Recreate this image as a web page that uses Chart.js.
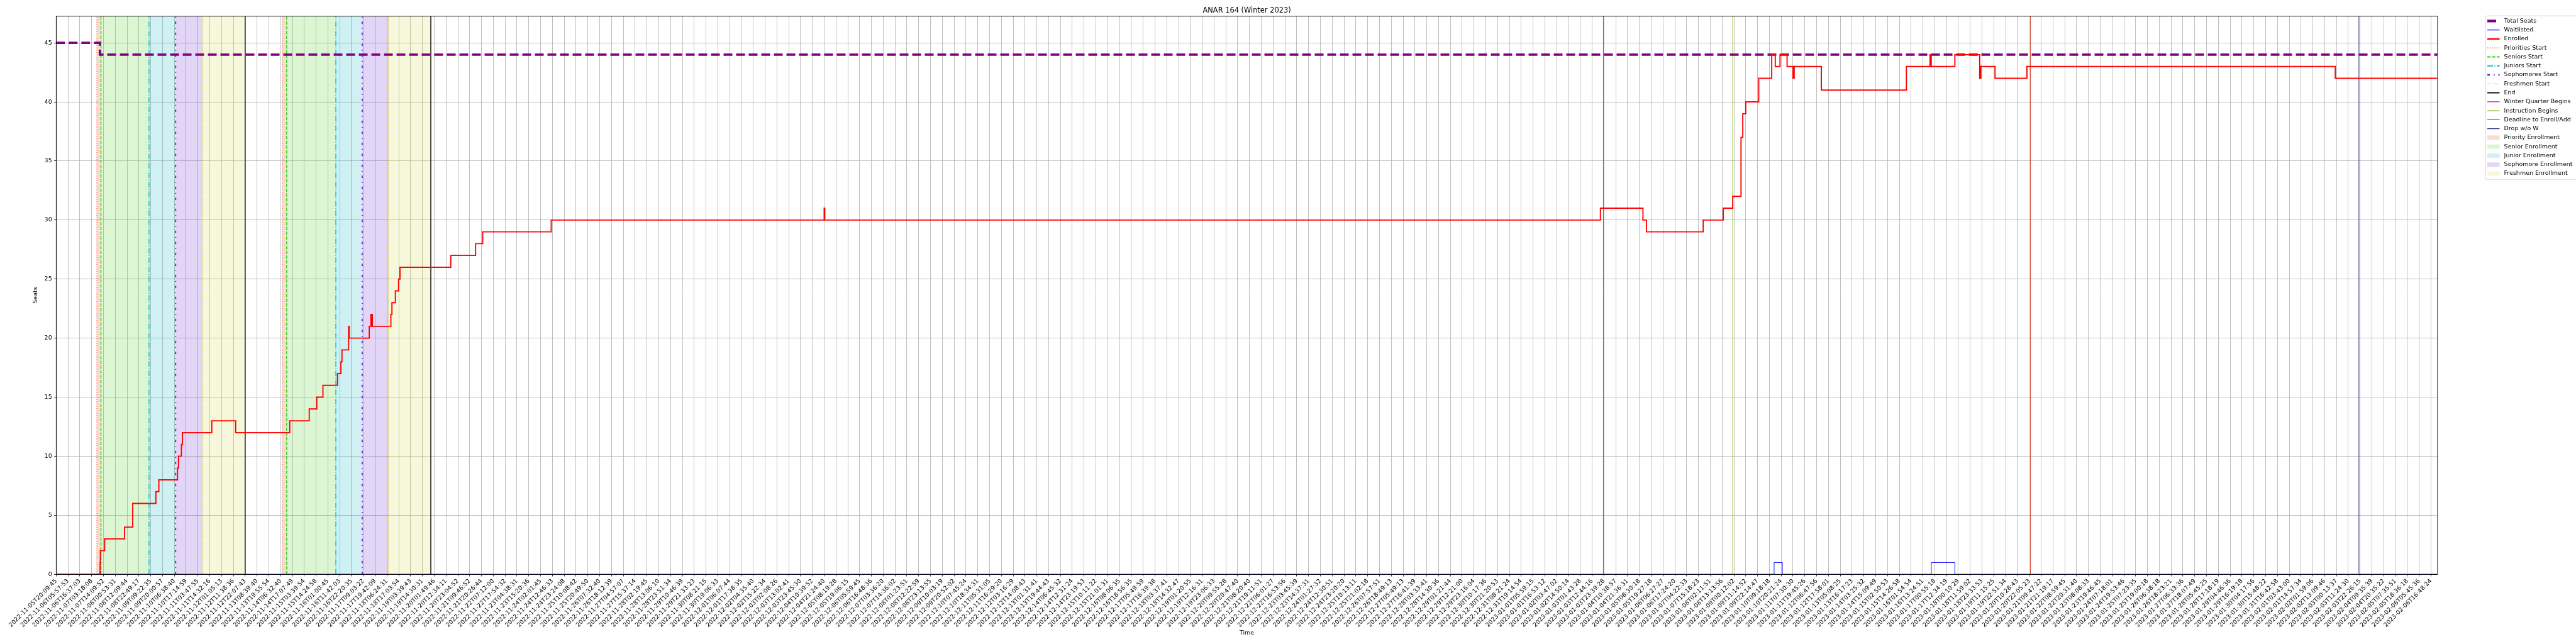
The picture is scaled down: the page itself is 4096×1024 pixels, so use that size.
<!DOCTYPE html>
<html>
<head>
<meta charset="utf-8">
<script src="https://cdn.jsdelivr.net/npm/chart.js@4.4.0/dist/chart.umd.min.js"></script>
<style>
  html, body { margin: 0; padding: 0; background: #fff; }
</style>
</head>
<body>
<canvas id="seatChart" width="4096" height="1024"></canvas>
<script>
// x positions are in "tick units": 0 = first tick label, 1 = second, ...
const tickLabels = [
  '2022-11-05T20:09:45','2022-11-06T05:57:53','2022-11-06T16:37:03','2022-11-07T03:18:08','2022-11-07T14:09:52',
  '2022-11-08T00:53:31','2022-11-08T12:09:44','2022-11-08T22:49:17','2022-11-09T09:22:35','2022-11-09T20:00:57',
  '2022-11-10T06:38:40','2022-11-10T17:14:59','2022-11-11T03:47:55','2022-11-11T14:32:16','2022-11-12T01:05:13',
  '2022-11-12T11:38:36','2022-11-12T22:07:43','2022-11-13T08:39:40','2022-11-13T19:55:54','2022-11-14T06:32:40',
  '2022-11-14T17:07:49','2022-11-15T03:39:54','2022-11-15T14:24:58','2022-11-16T01:00:45','2022-11-16T11:42:03',
  '2022-11-16T22:20:35','2022-11-17T09:03:22','2022-11-17T19:42:09','2022-11-18T06:24:31','2022-11-18T17:03:54',
  '2022-11-19T03:39:43','2022-11-19T14:30:31','2022-11-20T01:49:46','2022-11-20T12:34:11','2022-11-20T23:04:52',
  '2022-11-21T09:46:52','2022-11-21T20:26:44','2022-11-22T07:12:00','2022-11-22T17:54:32','2022-11-23T04:38:31',
  '2022-11-23T15:20:36','2022-11-24T02:01:45','2022-11-24T12:46:33','2022-11-24T23:24:08','2022-11-25T10:08:42',
  '2022-11-25T20:49:50','2022-11-26T07:32:40','2022-11-26T18:12:39','2022-11-27T04:57:07','2022-11-27T15:37:14',
  '2022-11-28T02:19:45','2022-11-28T13:06:10','2022-11-28T23:51:34','2022-11-29T10:46:39','2022-11-29T21:33:23',
  '2022-11-30T08:21:15','2022-11-30T19:06:33','2022-12-01T06:07:44','2022-12-01T17:38:35','2022-12-02T04:35:40',
  '2022-12-02T15:22:34','2022-12-03T02:08:26','2022-12-03T13:02:41','2022-12-03T23:45:30','2022-12-04T10:39:52',
  '2022-12-04T21:24:40','2022-12-05T08:19:28','2022-12-05T19:06:15',
  '2022-12-06T05:59:45','2022-12-06T16:48:36','2022-12-07T03:36:20','2022-12-07T14:36:02','2022-12-08T01:23:51',
  '2022-12-08T12:22:59','2022-12-08T23:13:55','2022-12-09T10:03:19','2022-12-09T20:52:02','2022-12-10T07:45:24',
  '2022-12-10T18:34:31','2022-12-11T05:31:05','2022-12-11T16:29:20','2022-12-12T03:16:29','2022-12-12T14:08:43',
  '2022-12-13T01:31:41','2022-12-13T19:44:43','2022-12-14T06:45:32','2022-12-14T12:31:24','2022-12-14T23:19:53',
  '2022-12-15T10:11:22','2022-12-15T21:01:31','2022-12-16T08:06:35','2022-12-16T18:56:35','2022-12-17T05:49:59',
  '2022-12-17T16:39:38','2022-12-18T03:37:41','2022-12-18T14:32:47','2022-12-19T01:20:55','2022-12-19T12:16:31',
  '2022-12-19T23:06:33','2022-12-20T09:55:28','2022-12-20T20:47:40','2022-12-21T08:20:40','2022-12-21T19:11:51',
  '2022-12-22T06:01:27','2022-12-22T16:53:56','2022-12-23T03:45:39','2022-12-23T14:37:31','2022-12-24T01:27:32',
  '2022-12-24T12:30:51','2022-12-24T23:20:20','2022-12-25T10:13:11','2022-12-25T21:02:18','2022-12-26T07:57:51',
  '2022-12-26T18:49:13','2022-12-27T05:49:13','2022-12-27T16:41:39','2022-12-28T03:33:41','2022-12-28T14:30:36',
  '2022-12-29T01:21:44','2022-12-29T12:21:00','2022-12-29T23:16:04','2022-12-30T10:17:36','2022-12-30T21:20:53',
  '2022-12-31T08:21:24','2022-12-31T19:14:54','2023-01-01T05:59:15','2023-01-01T16:53:12','2023-01-02T03:47:02',
  '2023-01-02T14:50:14','2023-01-03T01:43:28','2023-01-03T12:44:16','2023-01-03T23:39:28','2023-01-04T10:38:57',
  '2023-01-04T21:36:31','2023-01-05T08:30:18','2023-01-05T19:27:18','2023-01-06T06:27:27',
  '2023-01-06T17:24:20','2023-01-07T04:22:33','2023-01-07T15:18:23','2023-01-08T02:11:51','2023-01-08T13:13:56',
  '2023-01-09T00:12:02','2023-01-09T11:14:52','2023-01-09T22:14:47','2023-01-10T09:18:18','2023-01-10T20:21:24',
  '2023-01-11T07:30:30','2023-01-11T19:45:26','2023-01-12T06:47:56','2023-01-12T17:58:01','2023-01-13T05:08:25',
  '2023-01-13T16:17:23','2023-01-14T03:25:32','2023-01-14T15:09:49','2023-01-15T02:50:53','2023-01-15T14:26:58',
  '2023-01-16T01:54:54','2023-01-16T13:24:51','2023-01-17T00:55:18','2023-01-17T12:34:19','2023-01-18T00:10:29',
  '2023-01-18T11:59:02','2023-01-18T23:33:53','2023-01-19T11:15:25','2023-01-19T22:51:34','2023-01-20T10:28:43',
  '2023-01-20T22:05:23','2023-01-21T09:47:22','2023-01-21T21:19:17','2023-01-22T08:59:45',
  '2023-01-22T20:31:40','2023-01-23T08:08:33','2023-01-23T19:46:45','2023-01-24T07:18:01','2023-01-24T19:53:46',
  '2023-01-25T07:23:35','2023-01-25T19:00:18','2023-01-26T06:38:18','2023-01-26T18:23:21','2023-01-27T06:33:36',
  '2023-01-27T18:07:49','2023-01-28T05:45:25','2023-01-28T17:18:19','2023-01-29T04:46:36','2023-01-29T16:19:18',
  '2023-01-30T04:17:56','2023-01-30T15:48:22','2023-01-31T16:42:58','2023-02-01T03:43:00','2023-02-01T14:57:34',
  '2023-02-02T01:59:06','2023-02-02T13:09:46','2023-02-03T00:13:37','2023-02-03T11:24:30','2023-02-03T22:26:15',
  '2023-02-04T09:35:39','2023-02-04T20:35:22','2023-02-05T07:35:51','2023-02-05T18:36:18','2023-02-06T05:45:36',
  '2023-02-06T16:48:24'
];

const X_MAX = 201.55;   // last sample sits just past the last tick
const Y_MAX = 47.25;

// step series: value holds from x[i] until x[i+1]
const seatsX = [0, 3.7, X_MAX];
const seatsY = [45, 44, 44];

const waitlistX = [0, 145.4, 146.1, 158.7, 160.7, X_MAX];
const waitlistY = [0, 1, 0, 1, 0, 0];

const enrolledX = [0, 3.72, 3.74, 4.10, 5.79, 6.48, 8.44, 8.69, 10.27, 10.35, 10.60, 10.69, 13.17, 15.19,
  19.77, 21.42, 22.06, 22.58, 23.81, 24.10, 24.19, 24.75, 24.80, 26.50, 26.64, 26.68, 26.72, 26.76,
  28.33, 28.42, 28.71, 28.98, 29.10, 33.40, 35.5, 36.1, 41.9, 65.0, 65.05,
  130.7, 134.3, 134.6, 139.4, 141.1, 141.9, 142.6, 142.75, 143.0, 144.1, 145.2, 145.5, 145.9, 146.5,
  147.0, 147.1, 149.4, 156.6, 158.6, 158.7, 160.7, 162.8, 162.9, 164.1, 166.8, 192.9, X_MAX];
const enrolledY = [0, 1, 2, 3, 4, 6, 7, 8, 9, 10, 11, 12, 13, 12,
  13, 14, 15, 16, 17, 18, 19, 21, 20, 21, 22, 21, 22, 21,
  22, 23, 24, 25, 26, 27, 28, 29, 30, 31, 30,
  31, 30, 29, 30, 31, 32, 37, 39, 40, 42, 44, 43, 44, 43,
  42, 43, 41, 43, 44, 43, 44, 42, 43, 42, 43, 42, 42];

// enrollment phases, one entry per pass
const priorityStarts = [3.44, 19.15];
const seniorStarts = [3.79, 19.51];
const juniorStarts = [7.86, 23.67];
const sophomoreStarts = [10.11, 25.90];
const freshmenStarts = [12.41, 28.14];
const phaseEnds = [16.0, 31.71];

const winterBegins = [130.95];
const instructionBegins = [141.9];
const enrollDeadline = [167.1];
const dropNoW = [194.9];

const toPoints = (xs, ys) => xs.map((x, i) => ({ x: x, y: ys[i] }));
const vline = (x) => [{ x: x, y: 0 }, { x: x, y: Y_MAX }];
const span = (a, b) => [{ x: a, y: Y_MAX }, { x: b, y: Y_MAX }];

const datasets = [];

datasets.push({ label: 'Total Seats', data: toPoints(seatsX, seatsY), borderColor: '#800080',
  borderWidth: 3.8, borderDash: [14, 6], stepped: true, order: 3 });
datasets.push({ label: 'Waitlisted', data: toPoints(waitlistX, waitlistY), borderColor: '#0000ff',
  borderWidth: 0.95, stepped: true, order: 2 });
datasets.push({ label: 'Enrolled', data: toPoints(enrolledX, enrolledY), borderColor: '#ff0000',
  borderWidth: 1.9, stepped: true, order: 1 });

const markers = [
  ['Priorities Start', priorityStarts, '#f4511e', [1.4, 2.3], 1.0],
  ['Seniors Start', seniorStarts, '#33cc11', [5.3, 2.3], 1.4],
  ['Juniors Start', juniorStarts, '#00c4cc', [9, 2.3, 1.4, 2.3], 1.4],
  ['Sophomores Start', sophomoreStarts, '#6a1fd8', [4, 6, 1.5, 6], 1.9],
  ['Freshmen Start', freshmenStarts, '#e2e22a', [6, 2, 1.4, 2], 1.0],
  ['End', phaseEnds, '#000000', [], 1.4],
  ['Winter Quarter Begins', winterBegins, '#e2129a', [], 0.95],
  ['Instruction Begins', instructionBegins, '#8cb814', [], 0.95],
  ['Deadline to Enroll/Add', enrollDeadline, '#cc4422', [], 0.95],
  ['Drop w/o W', dropNoW, '#2e2a8c', [], 0.95]
];
markers.forEach(([label, xs, color, dash, width]) => {
  xs.forEach(x => datasets.push({ label: label, data: vline(x), borderColor: color,
    borderDash: dash, borderWidth: width, order: 10 }));
});

const phases = [
  ['Priority Enrollment', priorityStarts, seniorStarts, 'rgba(215, 85, 25, 0.2)'],
  ['Senior Enrollment', seniorStarts, juniorStarts, 'rgba(80, 205, 35, 0.2)'],
  ['Junior Enrollment', juniorStarts, sophomoreStarts, 'rgba(15, 185, 195, 0.2)'],
  ['Sophomore Enrollment', sophomoreStarts, freshmenStarts, 'rgba(110, 45, 205, 0.2)'],
  ['Freshmen Enrollment', freshmenStarts, phaseEnds, 'rgba(215, 222, 75, 0.2)']
];
phases.forEach(([label, from, to, color]) => {
  from.forEach((a, i) => datasets.push({ label: label, data: span(a, to[i]), borderWidth: 0,
    backgroundColor: color, fill: 'origin', order: 20, isPatch: true }));
});

// legend drawn to the right of the axes, like matplotlib's outside legend
const sideLegend = {
  id: 'sideLegend',
  afterDraw(chart) {
    const ctx = chart.ctx;
    const seen = new Set();
    const items = [];
    chart.data.datasets.forEach(ds => {
      if (!seen.has(ds.label)) { seen.add(ds.label); items.push(ds); }
    });
    const left = 3952, top = 25.2, bottom = 285.8, right = 4110, r = 3;
    ctx.save();
    ctx.beginPath();
    ctx.moveTo(left + r, top);
    ctx.lineTo(right, top);
    ctx.lineTo(right, bottom);
    ctx.lineTo(left + r, bottom);
    ctx.arcTo(left, bottom, left, bottom - r, r);
    ctx.lineTo(left, top + r);
    ctx.arcTo(left, top, left + r, top, r);
    ctx.closePath();
    ctx.fillStyle = 'rgba(255,255,255,0.8)';
    ctx.fill();
    ctx.strokeStyle = '#cccccc';
    ctx.lineWidth = 0.8;
    ctx.stroke();

    ctx.font = '9.5px "DejaVu Sans"';
    ctx.textBaseline = 'middle';
    ctx.textAlign = 'left';
    items.forEach((ds, i) => {
      const cy = 33.4 + i * 14.27;
      if (ds.isPatch) {
        ctx.fillStyle = ds.backgroundColor;
        ctx.fillRect(3955, cy - 3.4, 19.5, 6.8);
      } else {
        ctx.beginPath();
        ctx.setLineDash(ds.borderDash || []);
        ctx.lineWidth = ds.label === 'Total Seats' ? 4.2 : ds.borderWidth * 1.3;
        ctx.strokeStyle = ds.borderColor;
        ctx.moveTo(3955, cy);
        ctx.lineTo(3974.5, cy);
        ctx.stroke();
        ctx.setLineDash([]);
      }
      ctx.fillStyle = '#000';
      ctx.fillText(ds.label, 3981.6, cy);
    });
    ctx.restore();
  }
};

// title centred over the axes, plus the top/right spines
const frameAndTitle = {
  id: 'frameAndTitle',
  afterDatasetsDraw(chart) {
    const { ctx, chartArea: a } = chart;
    ctx.save();
    ctx.strokeStyle = '#000';
    ctx.lineWidth = 0.8;
    ctx.strokeRect(a.left, a.top, a.right - a.left, a.bottom - a.top);
    ctx.fillStyle = '#000';
    ctx.font = '11.4px "DejaVu Sans"';
    ctx.textAlign = 'center';
    ctx.textBaseline = 'alphabetic';
    ctx.fillText('ANAR 164 (Winter 2023)', (a.left + a.right) / 2, a.top - 5.7);
    ctx.restore();
  }
};

const tickFont = { family: 'DejaVu Sans', size: 9.5 };

new Chart(document.getElementById('seatChart'), {
  type: 'line',
  data: { datasets: datasets },
  options: {
    responsive: false,
    animation: false,
    devicePixelRatio: 1,
    layout: { padding: { left: 0, top: 25.9, right: 220.2, bottom: 0 } },
    elements: { point: { radius: 0 }, line: { tension: 0 } },
    plugins: { legend: { display: false }, tooltip: { enabled: false }, title: { display: false } },
    scales: {
      x: {
        type: 'linear',
        min: 0,
        max: X_MAX,
        afterFit: (s) => { s.height = 110.8; },
        ticks: {
          stepSize: 1,
          autoSkip: false,
          includeBounds: false,
          minRotation: 45,
          maxRotation: 45,
          padding: 2,
          color: '#000',
          font: tickFont,
          callback: (v) => tickLabels[v] || ''
        },
        grid: { color: '#b0b0b0', lineWidth: 0.8, tickLength: 3.3, tickColor: '#000', tickWidth: 0.8 },
        border: { display: true, color: '#000', width: 0.8 },
        title: { display: true, text: 'Time', color: '#000', font: tickFont, padding: { top: 0, bottom: 11.3 } }
      },
      y: {
        type: 'linear',
        min: 0,
        max: Y_MAX,
        afterFit: (s) => { s.width = 89.3; },
        ticks: { stepSize: 5, includeBounds: false, padding: 3.3, color: '#000', font: tickFont },
        grid: { color: '#b0b0b0', lineWidth: 0.8, tickLength: 3.3, tickColor: '#000', tickWidth: 0.8 },
        border: { display: true, color: '#000', width: 0.8 },
        title: { display: true, text: 'Seats', color: '#000', font: tickFont, padding: { top: 51.3, bottom: 0 } }
      }
    }
  },
  plugins: [sideLegend, frameAndTitle]
});
</script>
</body>
</html>
